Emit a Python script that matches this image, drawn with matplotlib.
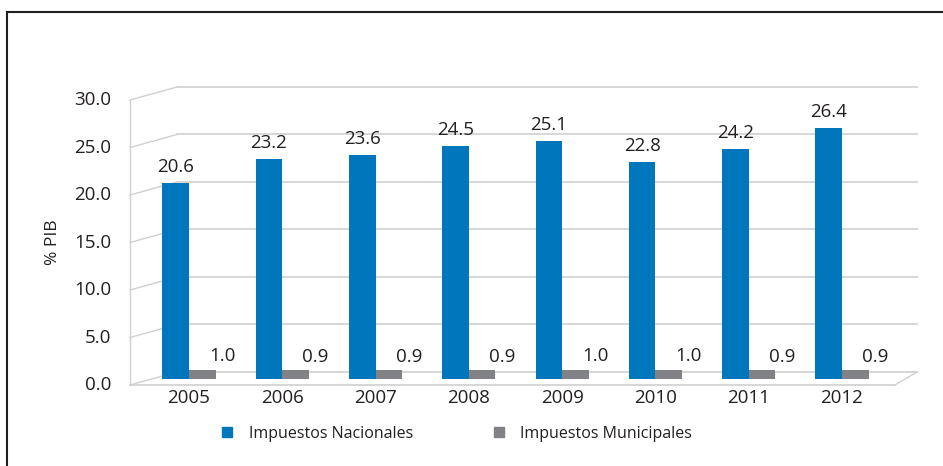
import matplotlib.pyplot as plt
import numpy as np
from matplotlib.lines import Line2D

plt.rcParams["font.family"] = ["Open Sans", "DejaVu Sans"]

years = ["2005", "2006", "2007", "2008", "2009", "2010", "2011", "2012"]
nacionales = [20.6, 23.2, 23.6, 24.5, 25.1, 22.8, 24.2, 26.4]
municipales = [1.0, 0.9, 0.9, 0.9, 1.0, 1.0, 0.9, 0.9]
y_ticks = [0, 5, 10, 15, 20, 25, 30]

blue = "#0077bd"
grey = "#808285"
grid_col = "#cfd0d2"
text_col = "#231f20"

# pseudo 3d: back wall sits a bit above the bars, front edge a bit below
back_off = 0.74
front_off = -0.63
x_front_left, x_back_left = -0.632, -0.129
x_front_right, x_back_right = 7.568, 7.804
w = 0.285

fig = plt.figure(figsize=(9.43, 4.66), dpi=100)
ax = fig.add_axes([130 / 943, 1 - 385 / 466, 787 / 943, 298 / 466])
ax.set_xlim(x_front_left, x_back_right)
ax.set_ylim(front_off, 30 + back_off)
ax.axis("off")

# grid on the back wall plus the slanted bits on the side wall
for v in y_ticks:
    ax.plot([x_back_left, x_back_right], [v + back_off, v + back_off], color=grid_col, lw=1.2, clip_on=False)
    ax.plot([x_front_left, x_back_left], [v + front_off, v + back_off], color=grid_col, lw=1.0, clip_on=False)
    ax.text(x_front_left - 0.2, v + front_off, f"{v:.1f}", ha="right", va="center",
            fontsize=13.5, color=text_col)

# floor and left edge
ax.plot([x_front_left, x_front_right], [front_off, front_off], color=grid_col, lw=1.2, clip_on=False)
ax.plot([x_front_right, x_back_right], [front_off, back_off], color=grid_col, lw=1.0, clip_on=False)
ax.plot([x_front_left, x_front_left], [front_off, 30 + front_off], color=grid_col, lw=1.0, clip_on=False)

x = np.arange(len(years))
ax.bar(x - w / 2, nacionales, w, color=blue, zorder=3)
ax.bar(x + w / 2, municipales, w, color=grey, zorder=3)

for i in range(len(years)):
    ax.annotate(f"{nacionales[i]:.1f}", (x[i] - w / 2, nacionales[i]), xytext=(0, 11.5),
                textcoords="offset points", ha="center", va="center", fontsize=13.5, color=text_col)
    ax.annotate(f"{municipales[i]:.1f}", (x[i] + w / 2, municipales[i]), xytext=(14.5, 9.5),
                textcoords="offset points", ha="center", va="center", fontsize=13.5, color=text_col)
    ax.text(x[i], front_off - 1.35, years[i], ha="center", va="center", fontsize=13.5, color=text_col)

fig.text(53 / 943, 1 - 242 / 466, "% PIB", rotation=90, ha="center", va="center",
         fontsize=12.5, color=text_col)

handles = [Line2D([], [], ls="", marker="s", markersize=7, color=blue),
           Line2D([], [], ls="", marker="s", markersize=7, color=grey)]
fig.legend(handles, ["Impuestos Nacionales", "Impuestos Municipales"], ncol=2,
           loc="center", bbox_to_anchor=(457 / 943, 1 - 434 / 466), frameon=False,
           fontsize=11.5, handlelength=0.7, handletextpad=1.0, columnspacing=5.0,
           labelcolor=text_col)

# frame lines on the left and top
fig.add_artist(Line2D([7 / 943, 7 / 943], [0, 1 - 12 / 466], color="#231f20", lw=1.5))
fig.add_artist(Line2D([7 / 943, 1], [1 - 12 / 466, 1 - 12 / 466], color="#231f20", lw=1.5))

fig.savefig("out.png", dpi=100)
